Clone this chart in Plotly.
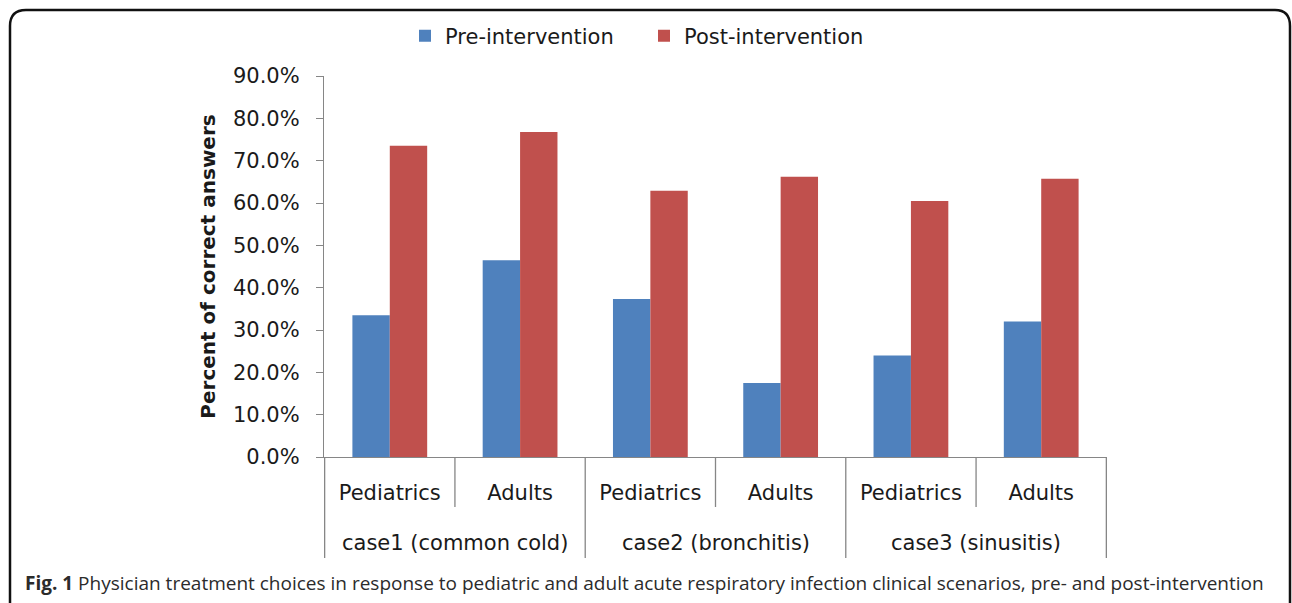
import plotly.graph_objects as go

# ---- data ----
cases = ["case1 (common cold)", "case2 (bronchitis)", "case3 (sinusitis)"]
groups = ["Pediatrics", "Adults"]
series_names = ["Pre-intervention", "Post-intervention"]
pre_values = [0.335, 0.465, 0.373, 0.175, 0.240, 0.320]
post_values = [0.735, 0.768, 0.629, 0.662, 0.605, 0.657]
y_tick_values = [0.0, 0.1, 0.2, 0.3, 0.4, 0.5, 0.6, 0.7, 0.8, 0.9]
y_title = "Percent of correct answers"
caption_bold = "Fig. 1"
caption_text = ("Physician treatment choices in response to pediatric and adult acute "
                "respiratory infection clinical scenarios, pre- and post-intervention")

# ---- styling ----
W, H = 1292, 603
BLUE = "#4F81BD"
RED = "#C0504D"
GRID = "#868686"
FONT = "DejaVu Sans"

keys = [f"{c}|{g}" for c in cases for g in groups]
inner_labels = [g for c in cases for g in groups]

def py(p):
    return (H - p) / H

fig = go.Figure()
fig.add_trace(go.Bar(x=keys, y=pre_values, name=series_names[0],
                     marker=dict(color=BLUE, line=dict(width=0))))
fig.add_trace(go.Bar(x=keys, y=post_values, name=series_names[1],
                     marker=dict(color=RED, line=dict(width=0))))

x_dom = [324 / W, 1107 / W]
y_dom = [py(457), py(76)]

shapes = []
n = len(keys)
for i in range(n + 1):
    b = i - 0.5
    long_line = (i % len(groups) == 0)
    shapes.append(dict(type="line", xref="x", yref="paper", x0=b, x1=b,
                       y0=py(457), y1=py(558) if long_line else py(507),
                       line=dict(color=GRID, width=1.3)))

# outer frame (rounded rectangle, cut off at the bottom)
def P(x, y):
    return f"{x / W:.5f},{py(y):.5f}"
frame = ("M " + P(10, 620) + " L " + P(10, 26) + " Q " + P(10, 10) + " " + P(26, 10)
         + " L " + P(1275, 10) + " Q " + P(1290, 10) + " " + P(1290, 26)
         + " L " + P(1290, 620))
shapes.append(dict(type="path", xref="paper", yref="paper", path=frame,
                   line=dict(color="#111111", width=2.5)))

annotations = []
for k, c in enumerate(cases):
    annotations.append(dict(x=k * len(groups) + (len(groups) - 1) / 2, xref="x",
                            y=py(543), yref="paper", text=c, showarrow=False,
                            xanchor="center", yanchor="middle",
                            font=dict(family=FONT, size=21, color="#1a1a1a")))
annotations.append(dict(x=23 / W, xref="paper", y=py(583), yref="paper",
                        text=f"<b>{caption_bold}</b> {caption_text}",
                        showarrow=False, xanchor="left", yanchor="middle",
                        font=dict(family="Open Sans", size=19, color="#2b2b2b")))

fig.update_layout(
    width=W, height=H,
    margin=dict(l=0, r=0, t=0, b=0, autoexpand=False),
    paper_bgcolor="white", plot_bgcolor="white",
    barmode="group", bargap=0.426, bargroupgap=0,
    showlegend=True,
    legend=dict(orientation="h", x=405 / W, xanchor="left", y=py(36), yanchor="middle",
                entrywidth=194, entrywidthmode="pixels",
                font=dict(family=FONT, size=21, color="#1a1a1a"),
                bgcolor="rgba(0,0,0,0)", itemclick=False),
    xaxis=dict(domain=x_dom, type="category", showline=True, linecolor=GRID,
               linewidth=1.3, ticks="", tickvals=keys, ticktext=inner_labels,
               tickfont=dict(family=FONT, size=21, color="#1a1a1a"),
               ticklabelstandoff=17, showgrid=False, zeroline=False,
               fixedrange=True, automargin=False),
    yaxis=dict(domain=y_dom, range=[0, 0.9], tickvals=y_tick_values,
               tickformat=".1%", showline=True, linecolor=GRID, linewidth=1.3,
               ticks="outside", ticklen=7, tickcolor=GRID, tickwidth=1.3,
               tickfont=dict(family=FONT, size=21, color="#1a1a1a"),
               ticklabelstandoff=12, showgrid=False, zeroline=False,
               title=dict(text=y_title, standoff=11,
                          font=dict(family=FONT, size=20, color="#1a1a1a", weight="bold")),
               fixedrange=True, automargin=False),
    shapes=shapes,
    annotations=annotations,
)

fig.write_html("out.html", config={"displayModeBar": False},
               post_script="document.body.style.margin='0';document.body.style.overflow='hidden';")
